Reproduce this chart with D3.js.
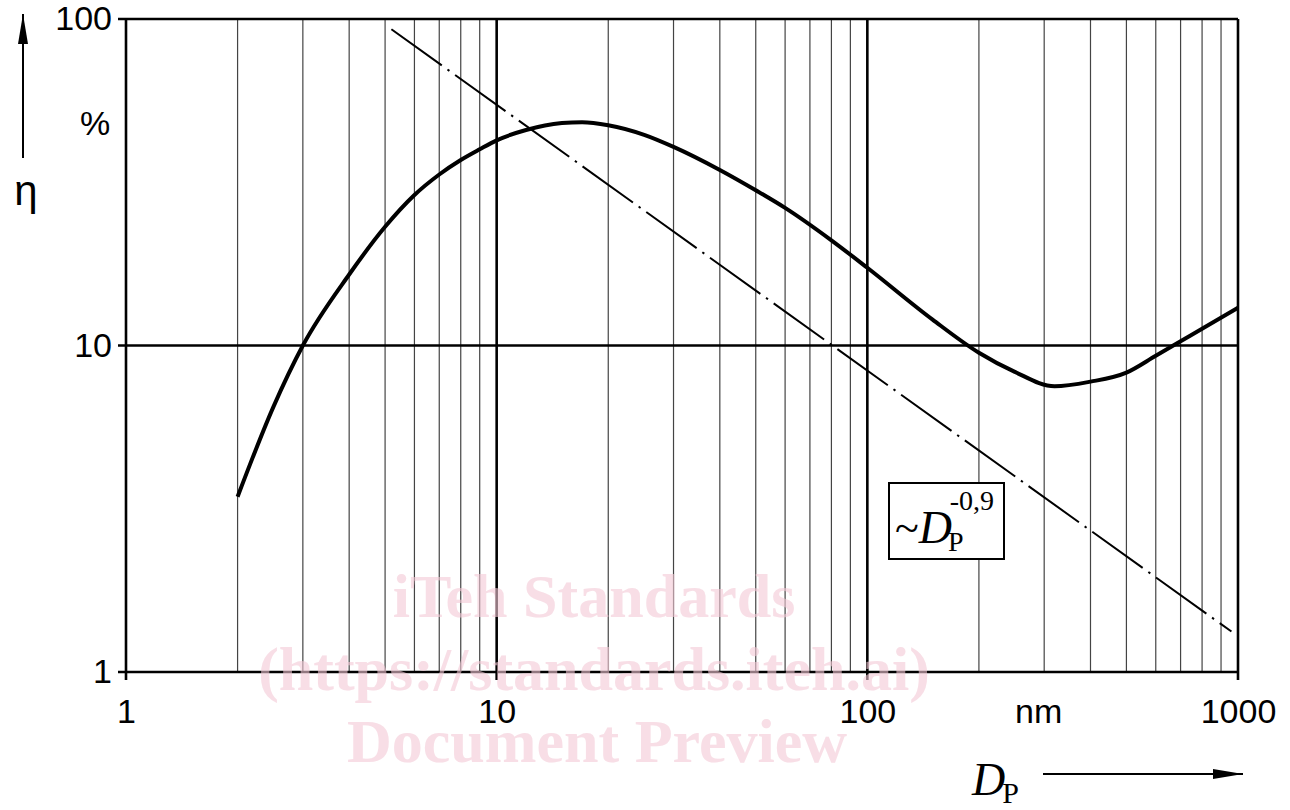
<!DOCTYPE html>
<html>
<head>
<meta charset="utf-8">
<script src="https://cdn.jsdelivr.net/npm/d3@7"></script>
<style>
  html, body { margin: 0; padding: 0; background: #fff; }
  svg text { font-family: "Liberation Sans", Arial, sans-serif; }
  svg text.serif, svg .serif text { font-family: "Liberation Serif", "Times New Roman", serif; }
</style>
</head>
<body>
<div id="chart"></div>
<script>
// particle diameter D_P (nm) and efficiency eta (%)
const curveD   = [2, 2.5, 3, 4, 5, 6, 7, 8, 9, 10, 12, 15, 17, 20, 25, 30, 40, 50, 60, 80, 100, 150, 200, 250, 320, 400, 500, 600, 700, 800, 1000];
const curveEta = [3.44, 6.5, 10.0, 16.5, 23.1, 28.9, 33.4, 37.0, 39.9, 42.5, 45.7, 48.0, 48.3, 47.3, 44.2, 40.6, 34.5, 29.9, 26.4, 21.0, 17.3, 12.0, 9.5, 8.3, 7.5, 7.75, 8.26, 9.3, 10.3, 11.25, 13.05];

// ~D_P^-0.9 reference line endpoints
const refD   = [5.2, 960];
const refEta = [93, 1.33];

const xTicks = [1, 10, 100, 1000];
const yTicks = [1, 10, 100];
const xMinor = [2,3,4,5,6,7,8,9,20,30,40,50,60,70,80,90,200,300,400,500,600,700,800,900];

const width = 1290, height = 810;
const margin = { top: 19, right: 52, bottom: 138, left: 126 };
const w = width - margin.left - margin.right;
const h = height - margin.top - margin.bottom;

const svg = d3.select('#chart').append('svg').attr('width', width).attr('height', height);
const g = svg.append('g').attr('transform', `translate(${margin.left},${margin.top})`);

const x = d3.scaleLog().domain([1, 1000]).range([0, w]);
const y = d3.scaleLog().domain([1, 100]).range([h, 0]);

// minor grid
g.selectAll('.minor').data(xMinor).join('line')
  .attr('x1', d => x(d)).attr('x2', d => x(d))
  .attr('y1', 0).attr('y2', h)
  .attr('stroke', '#444').attr('stroke-width', 1.2);

// major grid / frame
g.selectAll('.vmaj').data(xTicks).join('line')
  .attr('x1', d => x(d)).attr('x2', d => x(d))
  .attr('y1', 0).attr('y2', h + 8)
  .attr('stroke', '#000').attr('stroke-width', 2.6);
g.selectAll('.hmaj').data(yTicks).join('line')
  .attr('x1', -8).attr('x2', w)
  .attr('y1', d => y(d)).attr('y2', d => y(d))
  .attr('stroke', '#000').attr('stroke-width', 2.6);

// axes labels
const fmt = d => String(d);
const xAxis = g.append('g').attr('transform', `translate(0,${h})`)
  .call(d3.axisBottom(x).tickValues(xTicks).tickFormat(fmt).tickSize(0).tickPadding(38));
const yAxis = g.append('g')
  .call(d3.axisLeft(y).tickValues(yTicks).tickFormat(fmt).tickSize(0).tickPadding(14));
[xAxis, yAxis].forEach(a => {
  a.select('.domain').remove();
  a.selectAll('text').attr('font-size', 34).attr('fill', '#000')
    .style('font-family', '"Liberation Sans", Arial, sans-serif');
});
xAxis.selectAll('text').attr('dy', 0).attr('y', 51);

// unit labels
g.append('text').attr('x', x(290)).attr('y', h + 51).attr('text-anchor', 'middle')
  .attr('font-size', 34).text('nm');
g.append('text').attr('x', -31).attr('y', y(47)).attr('text-anchor', 'middle')
  .attr('dominant-baseline', 'middle').attr('font-size', 34).text('%');

// curve
const line = d3.line().x(d => x(d[0])).y(d => y(d[1])).curve(d3.curveMonotoneX);
g.append('path').datum(d3.zip(curveD, curveEta))
  .attr('fill', 'none').attr('stroke', '#000').attr('stroke-width', 4)
  .attr('stroke-linejoin', 'round').attr('d', line);

// reference line
g.append('path').datum(d3.zip(refD, refEta))
  .attr('fill', 'none').attr('stroke', '#000').attr('stroke-width', 2)
  .attr('stroke-dasharray', '62,7,2.4,7')
  .attr('d', d3.line().x(d => x(d[0])).y(d => y(d[1])));

// box label
const bx = 889 - margin.left, by = 483 - margin.top;
g.append('rect').attr('x', bx).attr('y', by).attr('width', 115).attr('height', 76)
  .attr('fill', '#fff').attr('stroke', '#000').attr('stroke-width', 2);
const lbl = g.append('text').attr('class', 'serif').attr('x', bx + 6).attr('y', by + 60);
lbl.append('tspan').attr('font-size', 44).text('~');
lbl.append('tspan').attr('font-size', 46).attr('font-style', 'italic').text('D');
lbl.append('tspan').attr('font-size', 28).attr('dx', -4).attr('dy', 8).text('P');
lbl.append('tspan').attr('font-size', 28).attr('dx', -14).attr('dy', -41).text('-0,9');

// arrows
const defs = svg.append('defs');
defs.append('marker').attr('id', 'arr').attr('viewBox', '0 0 30 10')
  .attr('refX', 30).attr('refY', 5).attr('markerWidth', 30).attr('markerHeight', 10)
  .attr('markerUnits', 'userSpaceOnUse').attr('orient', 'auto')
  .append('path').attr('d', 'M0,0L30,5L0,10Z').attr('fill', '#000');

svg.append('line').attr('x1', 23).attr('x2', 23).attr('y1', 158).attr('y2', 14)
  .attr('stroke', '#000').attr('stroke-width', 2).attr('marker-end', 'url(#arr)');
svg.append('text').attr('x', 26).attr('y', 205).attr('text-anchor', 'middle')
  .attr('font-size', 42).text('η');

svg.append('line').attr('x1', 1043).attr('x2', 1243).attr('y1', 774).attr('y2', 774)
  .attr('stroke', '#000').attr('stroke-width', 2).attr('marker-end', 'url(#arr)');
const xl = svg.append('text').attr('class', 'serif').attr('x', 972).attr('y', 795);
xl.append('tspan').attr('font-size', 46).attr('font-style', 'italic').text('D');
xl.append('tspan').attr('font-size', 30).attr('dx', -3).attr('dy', 8).text('P');

// watermark
const wm = svg.append('g').attr('class', 'serif').attr('fill', '#f4c9d6').attr('opacity', 0.6)
  .attr('font-weight', 'bold').attr('text-anchor', 'middle').attr('font-size', 62);
wm.append('text').attr('x', 594).attr('y', 617).text('iTeh Standards');
wm.append('text').attr('x', 594).attr('y', 690).text('(https://standards.iteh.ai)');
wm.append('text').attr('x', 597).attr('y', 762).text('Document Preview');
</script>
</body>
</html>
